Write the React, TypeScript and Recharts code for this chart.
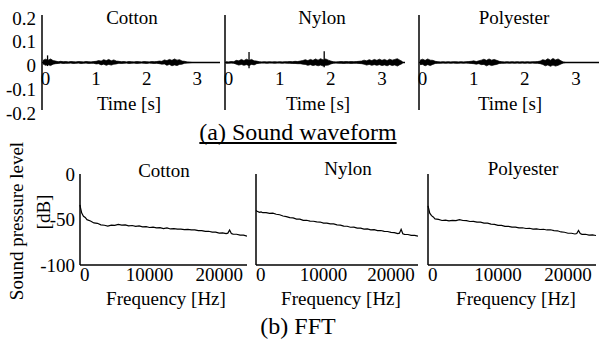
import { AreaChart, Area, LineChart, Line, XAxis, YAxis, ReferenceLine } from 'recharts';

const SERIF = '"Liberation Serif", "Times New Roman", serif';

// waveform time grid [s]
const waveTime = [
    -0.05, 0, 0.05, 0.1, 0.15, 0.2, 0.25, 0.3, 0.35, 0.4,
    0.45, 0.5, 0.55, 0.6, 0.65, 0.7, 0.75, 0.8, 0.85, 0.9,
    0.95, 1, 1.05, 1.1, 1.15, 1.2, 1.25, 1.3, 1.35, 1.4,
    1.45, 1.5, 1.55, 1.6, 1.65, 1.7, 1.75, 1.8, 1.85, 1.9,
    1.95, 2, 2.05, 2.1, 2.15, 2.2, 2.25, 2.3, 2.35, 2.4,
    2.45, 2.5, 2.55, 2.6, 2.65, 2.7, 2.75, 2.8, 2.85, 2.9,
    2.95, 3, 3.05, 3.1, 3.15, 3.2, 3.25, 3.3, 3.35, 3.4,
];

// waveform envelopes (upper / lower amplitude)
const cottonHi = [
    0.009, 0.014, 0.010, 0.015, 0.008, 0.006, 0.003, 0.005, 0.003, 0.004,
    0.002, 0.004, 0.003, 0.002, 0.004, 0.003, 0.002, 0.004, 0.003, 0.002,
    0.004, 0.005, 0.008, 0.006, 0.012, 0.008, 0.013, 0.007, 0.011, 0.006,
    0.005, 0.003, 0.004, 0.002, 0.004, 0.003, 0.002, 0.004, 0.003, 0.002,
    0.004, 0.003, 0.002, 0.004, 0.003, 0.004, 0.006, 0.005, 0.011, 0.008,
    0.013, 0.009, 0.015, 0.010, 0.012, 0.006, 0.005, 0.002, 0.001, 0,
    0, 0, 0, 0, 0, 0, 0, 0, 0, 0,
];
const cottonLo = [
    -0.006, -0.012, -0.009, -0.013, -0.007, -0.005, -0.004, -0.002, -0.004, -0.003,
    -0.003, -0.002, -0.004, -0.003, -0.002, -0.004, -0.003, -0.002, -0.004, -0.003,
    -0.003, -0.006, -0.005, -0.010, -0.007, -0.012, -0.008, -0.011, -0.007, -0.006,
    -0.003, -0.004, -0.003, -0.002, -0.004, -0.003, -0.002, -0.004, -0.003, -0.002,
    -0.003, -0.004, -0.002, -0.003, -0.004, -0.003, -0.005, -0.007, -0.006, -0.012,
    -0.008, -0.014, -0.010, -0.013, -0.008, -0.007, -0.003, -0.002, -0.001, 0,
    0, 0, 0, 0, 0, 0, 0, 0, 0, 0,
];
const nylonHi = [
    0.003, 0.002, 0.004, 0.003, 0.009, 0.007, 0.013, 0.008, 0.014, 0.009,
    0.013, 0.007, 0.006, 0.003, 0.002, 0.003, 0.002, 0.003, 0.002, 0.003,
    0.002, 0.003, 0.002, 0.003, 0.003, 0.004, 0.003, 0.005, 0.004, 0.006,
    0.008, 0.012, 0.008, 0.013, 0.009, 0.015, 0.010, 0.016, 0.011, 0.015,
    0.010, 0.006, 0.003, 0.002, 0.003, 0.004, 0.003, 0.004, 0.003, 0.004,
    0.003, 0.004, 0.005, 0.006, 0.010, 0.007, 0.012, 0.008, 0.013, 0.009,
    0.014, 0.009, 0.013, 0.008, 0.014, 0.010, 0.013, 0.016, 0.010, 0.004,
];
const nylonLo = [
    -0.003, -0.003, -0.002, -0.003, -0.007, -0.011, -0.008, -0.012, -0.009, -0.013,
    -0.008, -0.010, -0.005, -0.003, -0.002, -0.002, -0.003, -0.002, -0.002, -0.003,
    -0.002, -0.002, -0.003, -0.002, -0.003, -0.003, -0.004, -0.004, -0.005, -0.005,
    -0.007, -0.008, -0.012, -0.009, -0.013, -0.010, -0.014, -0.011, -0.015, -0.012,
    -0.011, -0.006, -0.003, -0.002, -0.003, -0.003, -0.004, -0.003, -0.003, -0.004,
    -0.003, -0.003, -0.004, -0.005, -0.007, -0.011, -0.008, -0.012, -0.009, -0.012,
    -0.009, -0.013, -0.010, -0.014, -0.009, -0.013, -0.010, -0.015, -0.009, -0.004,
];
const polyHi = [
    0.010, 0.014, 0.009, 0.015, 0.010, 0.009, 0.005, 0.003, 0.002, 0.003,
    0.002, 0.003, 0.002, 0.003, 0.003, 0.002, 0.003, 0.002, 0.003, 0.004,
    0.005, 0.007, 0.004, 0.007, 0.010, 0.014, 0.009, 0.015, 0.010, 0.013,
    0.009, 0.005, 0.003, 0.002, 0.003, 0.002, 0.003, 0.002, 0.003, 0.002,
    0.003, 0.002, 0.003, 0.002, 0.003, 0.003, 0.004, 0.006, 0.012, 0.009,
    0.016, 0.010, 0.017, 0.011, 0.015, 0.008, 0.002, 0, 0, 0,
    0, 0, 0, 0, 0, 0, 0, 0, 0, 0,
];
const polyLo = [
    -0.009, -0.008, -0.014, -0.009, -0.013, -0.008, -0.004, -0.003, -0.003, -0.002,
    -0.003, -0.002, -0.003, -0.002, -0.003, -0.003, -0.002, -0.003, -0.002, -0.003,
    -0.004, -0.005, -0.007, -0.005, -0.009, -0.008, -0.014, -0.009, -0.013, -0.010,
    -0.008, -0.004, -0.003, -0.003, -0.002, -0.003, -0.002, -0.003, -0.002, -0.003,
    -0.002, -0.003, -0.002, -0.003, -0.002, -0.003, -0.003, -0.005, -0.008, -0.014,
    -0.010, -0.016, -0.011, -0.015, -0.012, -0.007, -0.002, 0, 0, 0,
    0, 0, 0, 0, 0, 0, 0, 0, 0, 0,
];

// isolated waveform spikes (time, peak, trough)
const cottonSpikeT = [0.04];
const cottonSpikeHi = [0.03];
const cottonSpikeLo = [-0.015];
const nylonSpikeT = [0.4, 1.87];
const nylonSpikeHi = [0.044, 0.047];
const nylonSpikeLo = [-0.024, -0.02];

// FFT frequency grid [Hz]
const freqHz = [
    0, 100, 250, 500, 750, 1000, 1500, 2000, 2500, 3000,
    3500, 4000, 4500, 5000, 5500, 6000, 6500, 7000, 7500, 8000,
    8500, 9000, 9500, 10000, 10500, 11000, 11500, 12000, 12500, 13000,
    13500, 14000, 14500, 15000, 15500, 16000, 16500, 17000, 17500, 18000,
    18500, 19000, 19500, 20000, 20500, 21000, 21250, 21500, 21750, 22000,
    22500, 23000, 23500, 24000,
];

// sound pressure level [dB]
const cottonDb = [
    -34, -38, -43, -46.5, -47.8, -50.2, -51.6, -53.8, -54.2, -55.9,
    -56.3, -57.2, -56.1, -56.4, -55.4, -56.1, -55.9, -56.9, -56.6, -57.6,
    -57, -58.1, -57.9, -58.8, -58.4, -59.1, -59, -60, -59.3, -60.4,
    -60, -60.6, -60.5, -61.2, -60.9, -61.5, -61.4, -62.3, -62.2, -63.1,
    -62.9, -63.9, -63.8, -64.9, -64.7, -65.5, -65, -61.5, -65.4, -66.1,
    -66.2, -67.2, -67.1, -68.2,
];
const nylonDb = [
    -40, -40.6, -41.2, -42.2, -41.6, -42.5, -42.4, -43.2, -43, -44.2,
    -44.8, -46.2, -46.8, -47.9, -48.3, -49.5, -49.6, -50.9, -50.8, -51.8,
    -51.9, -52.7, -52.8, -53.9, -53.9, -54.8, -54.9, -55.9, -56.1, -57.2,
    -57.4, -58.5, -58.3, -59.4, -59.4, -60.5, -60.3, -61.3, -61.2, -62.2,
    -62.1, -63, -63.2, -64.2, -64.4, -65.5, -65, -60.8, -65.6, -66.3,
    -66.5, -67.5, -67.4, -68.2,
];
const polyDb = [
    -35, -38, -43, -45.8, -47.2, -49.3, -49.9, -51.1, -50.8, -51.6,
    -51, -51.3, -50.1, -51.1, -51.3, -52.2, -52.1, -52.9, -52.9, -53.9,
    -54, -55.1, -55.3, -56.4, -56.5, -57.6, -57.6, -58.4, -58.4, -59.2,
    -59.1, -59.9, -59.6, -60.5, -60.3, -61, -60.7, -61.5, -61.3, -62.2,
    -62.4, -63.7, -64, -65.1, -65.1, -65.9, -65.4, -62, -65.5, -66.3,
    -66.2, -67.1, -67, -67.6,
];

const timeTicks = [0, 1, 2, 3];
const ampTicks = [-0.2, -0.1, 0, 0.1, 0.2];
const freqTicks = [0, 10000, 20000];
const dbTicks = [-100, -50, 0];

const waveRows = (hi: number[], lo: number[]) =>
    waveTime.map((t, i) => ({ t, band: [lo[i], hi[i]] }));
const fftRows = (db: number[]) => freqHz.map((f, i) => ({ f, db: db[i] }));

const TimeTick = ({ x, y, payload }: any) => (
    <text x={x} y={y - 40} dy="0.71em" textAnchor="middle" fontFamily={SERIF} fontSize={19} fill="#000">
        {payload.value}
    </text>
);

const FreqTick = ({ x, y, payload }: any) => (
    <text
        x={x}
        y={y}
        dy="0.71em"
        textAnchor={payload.value === 0 ? 'start' : 'middle'}
        fontFamily={SERIF}
        fontSize={19}
        fill="#000"
    >
        {payload.value}
    </text>
);

const LeftTick = ({ x, y, payload, shift }: any) => (
    <text x={x} y={y + (shift || 0)} dy="0.355em" textAnchor="end" fontFamily={SERIF} fontSize={19} fill="#000">
        {payload.value}
    </text>
);

function WavePanel({ hi, lo, left, width, showY, spikeT = [], spikeHi = [], spikeLo = [] }: any) {
    return (
        <div style={{ position: 'absolute', left, top: 0 }}>
            <AreaChart
                width={width}
                height={125}
                data={waveRows(hi, lo)}
                margin={{ top: 15, right: 0, bottom: 0, left: 0 }}
            >
                <XAxis
                    type="number"
                    dataKey="t"
                    domain={[-0.07, 3.45]}
                    ticks={timeTicks}
                    interval={0}
                    axisLine={false}
                    tickLine={false}
                    tickSize={0}
                    height={15}
                    tick={<TimeTick />}
                />
                <YAxis
                    type="number"
                    domain={[-0.2, 0.2]}
                    ticks={ampTicks}
                    interval={0}
                    width={showY ? 42 : 2}
                    axisLine={{ stroke: '#000', strokeWidth: 1.5 }}
                    tickLine={false}
                    tickSize={0}
                    tickMargin={6}
                    tick={showY ? <LeftTick shift={3} /> : false}
                />
                <ReferenceLine y={0} stroke="#000" strokeWidth={1.5} />
                {spikeT.map((t: number, i: number) => (
                    <ReferenceLine
                        key={i}
                        segment={[
                            { x: t, y: spikeLo[i] },
                            { x: t, y: spikeHi[i] },
                        ]}
                        stroke="#000"
                        strokeWidth={1.3}
                    />
                ))}
                <Area
                    type="linear"
                    dataKey="band"
                    stroke="#000"
                    strokeWidth={0.7}
                    fill="#000"
                    fillOpacity={1}
                    dot={false}
                    activeDot={false}
                    isAnimationActive={false}
                />
            </AreaChart>
        </div>
    );
}

function FftPanel({ db, left, width, showY }: any) {
    return (
        <div style={{ position: 'absolute', left, top: 150 }}>
            <LineChart
                width={width}
                height={140}
                data={fftRows(db)}
                margin={{ top: 24, right: 0, bottom: 0, left: 0 }}
            >
                <XAxis
                    type="number"
                    dataKey="f"
                    domain={[0, 24000]}
                    ticks={freqTicks}
                    interval={0}
                    axisLine={{ stroke: '#000', strokeWidth: 1.5 }}
                    tickLine={false}
                    tickSize={0}
                    tickMargin={3}
                    height={25}
                    tick={<FreqTick />}
                />
                <YAxis
                    type="number"
                    domain={[-100, 0]}
                    ticks={dbTicks}
                    interval={0}
                    width={showY ? 80 : 2}
                    axisLine={{ stroke: '#000', strokeWidth: 1.5 }}
                    tickLine={false}
                    tickSize={0}
                    tickMargin={5}
                    tick={showY ? <LeftTick /> : false}
                />
                <Line
                    type="linear"
                    dataKey="db"
                    stroke="#000"
                    strokeWidth={1.2}
                    dot={false}
                    activeDot={false}
                    isAnimationActive={false}
                />
            </LineChart>
        </div>
    );
}

function Label({ x, y, size = 19, rotate = 0, underline = false, children }: any) {
    return (
        <div
            style={{
                position: 'absolute',
                left: x,
                top: y,
                transform: `translate(-50%, -50%) rotate(${rotate}deg)`,
                fontFamily: SERIF,
                fontSize: size,
                lineHeight: 1,
                whiteSpace: 'nowrap',
                color: '#000',
                textDecoration: underline ? 'underline' : 'none',
                textDecorationSkipInk: 'none',
            }}
        >
            {children}
        </div>
    );
}

export default function App() {
    return (
        <div style={{ position: 'absolute', left: 0, top: 0, width: 600, height: 343, background: '#fff', overflow: 'hidden' }}>
            <WavePanel
                hi={cottonHi}
                lo={cottonLo}
                left={0}
                width={220}
                showY
                spikeT={cottonSpikeT}
                spikeHi={cottonSpikeHi}
                spikeLo={cottonSpikeLo}
            />
            <WavePanel
                hi={nylonHi}
                lo={nylonLo}
                left={223}
                width={182}
                spikeT={nylonSpikeT}
                spikeHi={nylonSpikeHi}
                spikeLo={nylonSpikeLo}
            />
            <WavePanel hi={polyHi} lo={polyLo} left={417} width={182} />

            <FftPanel db={cottonDb} left={0} width={247} showY />
            <FftPanel db={nylonDb} left={254} width={164} />
            <FftPanel db={polyDb} left={426} width={170} />

            <Label x={132} y={17}>Cotton</Label>
            <Label x={322} y={17}>Nylon</Label>
            <Label x={514} y={17}>Polyester</Label>
            <Label x={129} y={103}>Time [s]</Label>
            <Label x={318} y={103}>Time [s]</Label>
            <Label x={510} y={103}>Time [s]</Label>
            <Label x={298} y={132} size={24} underline>(a) Sound waveform</Label>

            <Label x={164} y={170}>Cotton</Label>
            <Label x={348} y={168}>Nylon</Label>
            <Label x={523} y={168}>Polyester</Label>
            <Label x={166} y={298}>Frequency [Hz]</Label>
            <Label x={341} y={298}>Frequency [Hz]</Label>
            <Label x={516} y={298}>Frequency [Hz]</Label>
            <Label x={16} y={221} rotate={-90}>Sound pressure level</Label>
            <Label x={43} y={212} rotate={-90}>[dB]</Label>
            <Label x={298} y={326} size={24}>(b) FFT</Label>
        </div>
    );
}
